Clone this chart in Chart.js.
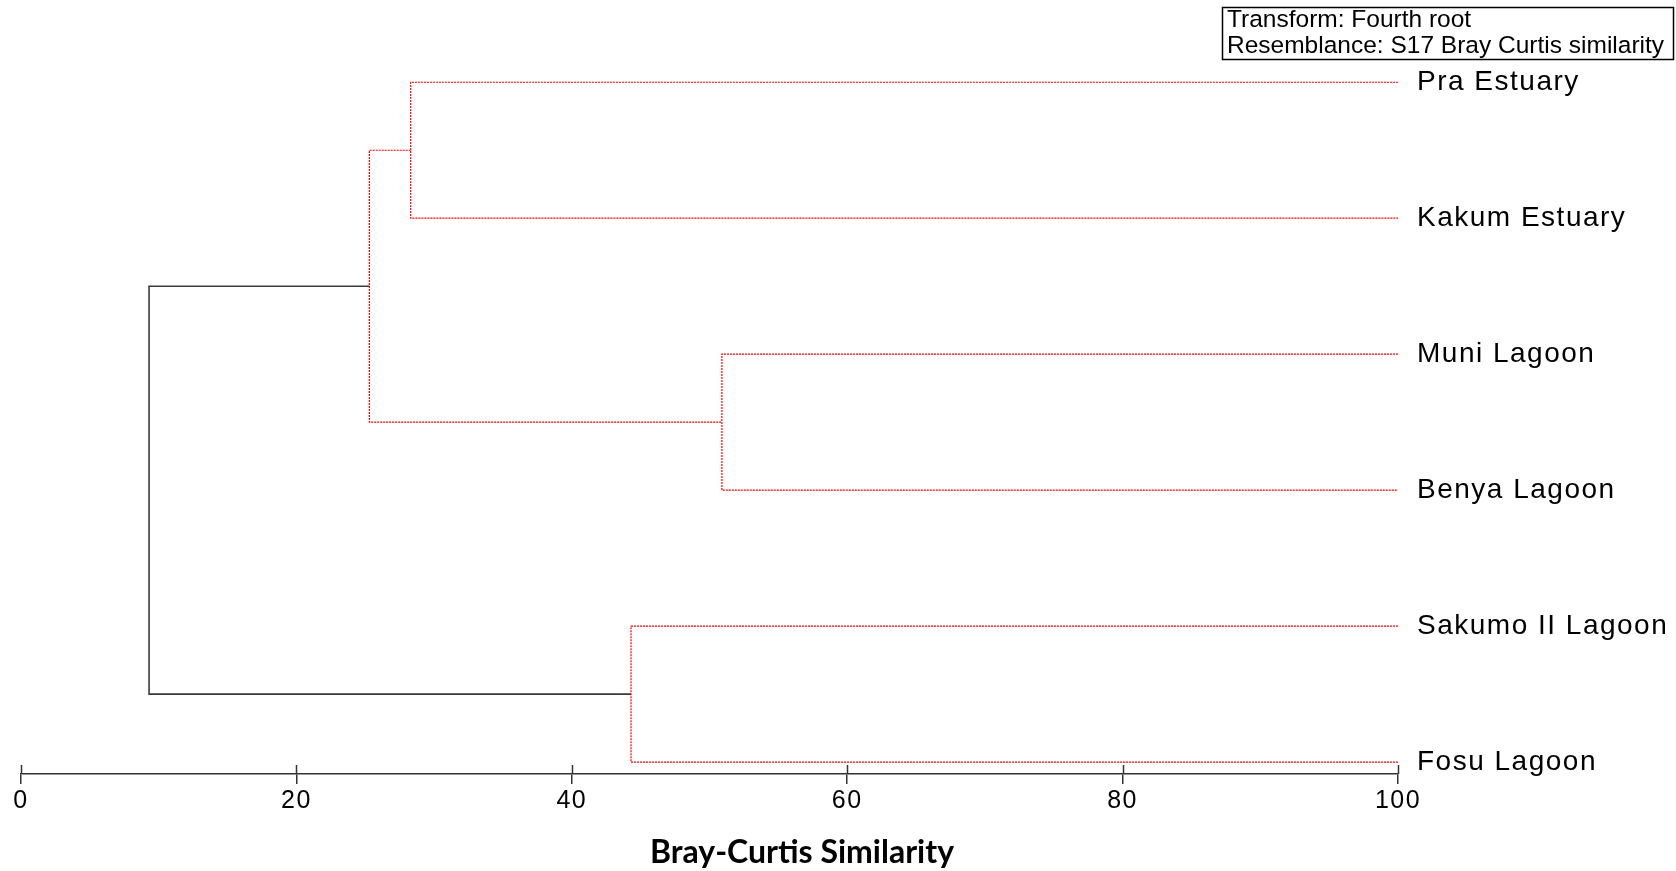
<!DOCTYPE html>
<html><head><meta charset="utf-8">
<script src="https://cdn.jsdelivr.net/npm/chart.js@4"></script>
<style>html,body{margin:0;padding:0;background:#fff;}#wrap{position:relative;width:1676px;height:871px;}</style>
</head><body><div id="wrap"><canvas id="c" width="1676" height="871"></canvas></div>
<script>
// ---- data ----
const leaves = ['Pra Estuary','Kakum Estuary','Muni Lagoon','Benya Lagoon','Sakumo II Lagoon','Fosu Lagoon'];
// merges in order; ids 0-5 are leaves, 6+ are the clusters formed by each merge
const mergeA = [0, 2, 4, 6, 8];
const mergeB = [1, 3, 5, 7, 9];
const mergeSimilarity = [28.3, 50.9, 44.3, 25.3, 9.3];
const mergeSignificant = [false, false, false, false, true];
const xTicks = [0, 20, 40, 60, 80, 100];
const legendLines = ['Transform: Fourth root', 'Resemblance: S17 Bray Curtis similarity'];
const xTitle = 'Bray-Curtis Similarity';

// ---- build dendrogram links ----
const nodeX = leaves.map(() => 100);
const nodeY = leaves.map((_, i) => i);
const datasets = [];
mergeSimilarity.forEach((sim, k) => {
  const a = mergeA[k], b = mergeB[k];
  const sig = mergeSignificant[k];
  datasets.push({
    data: [
      {x: nodeX[a], y: nodeY[a]}, {x: sim, y: nodeY[a]},
      {x: sim, y: nodeY[b]}, {x: nodeX[b], y: nodeY[b]}
    ],
    showLine: true, fill: false, tension: 0, pointRadius: 0,
    borderColor: sig ? '#3a3a3a' : 'rgb(255,0,0)',
    borderWidth: sig ? 1.6 : 1.2,
    borderDash: sig ? [] : [2, 1]
  });
  nodeX.push(sim);
  nodeY.push((nodeY[a] + nodeY[b]) / 2);
});

const overlay = {
  id: 'overlay',
  beforeDraw(chart) { chart.ctx.letterSpacing = '1.5px'; },
  beforeDatasetsDraw(chart) { chart.ctx.letterSpacing = '0px'; },
  afterDraw(chart) {
    const ctx = chart.ctx, xs = chart.scales.x;
    ctx.save();
    ctx.letterSpacing = '0px';
    ctx.strokeStyle = '#333'; ctx.lineWidth = 1.5;
    xs.ticks.forEach(t => {
      const px = Math.round(xs.getPixelForValue(t.value)) + 0.5;
      ctx.beginPath(); ctx.moveTo(px, xs.top - 9); ctx.lineTo(px, xs.top); ctx.stroke();
    });
    ctx.fillStyle = '#000';
    ctx.font = 'bold 32px Lato';
    ctx.textAlign = 'center'; ctx.textBaseline = 'middle';
    ctx.fillText(xTitle, 802, 853);
    ctx.strokeStyle = '#000'; ctx.lineWidth = 1.5;
    ctx.strokeRect(1222.5, 7.5, 451, 52);
    ctx.font = '24.5px "Liberation Sans", Arial';
    ctx.textAlign = 'left';
    legendLines.forEach((l, i) => ctx.fillText(l, 1227, 20 + i * 26.5));
    ctx.restore();
  }
};

new Chart(document.getElementById('c'), {
  type: 'scatter',
  data: { datasets },
  plugins: [overlay],
  options: {
    responsive: false, animation: false, events: [],
    layout: { padding: { left: 21, top: 8, right: 0, bottom: 0 } },
    plugins: { legend: { display: false }, tooltip: { enabled: false } },
    scales: {
      x: {
        type: 'linear', position: 'bottom', min: 0, max: 100,
        afterBuildTicks: s => { s.ticks = xTicks.map(v => ({ value: v })); },
        ticks: { font: { family: '"Liberation Sans", Arial', size: 25 }, color: '#000', padding: 2, maxRotation: 0, autoSkip: false },
        grid: { display: true, drawOnChartArea: false, drawTicks: true, tickLength: 10, color: '#333', lineWidth: 1.5 },
        border: { display: true, color: '#333', width: 1.5 },
        afterFit: s => { s.height = 97; s.paddingLeft = 0; s.paddingRight = 0; }
      },
      y: {
        type: 'linear', position: 'right', reverse: true, min: -0.546, max: 5.0875,
        afterBuildTicks: s => { s.ticks = leaves.map((_, i) => ({ value: i })); },
        ticks: { callback: v => leaves[v], font: { family: '"Liberation Sans", Arial', size: 28 }, color: '#000', padding: 19, autoSkip: false },
        grid: { display: false, drawTicks: false },
        border: { display: false },
        afterFit: s => { s.width = 278; s.paddingTop = 0; s.paddingBottom = 0; }
      }
    }
  }
});
</script></body></html>
